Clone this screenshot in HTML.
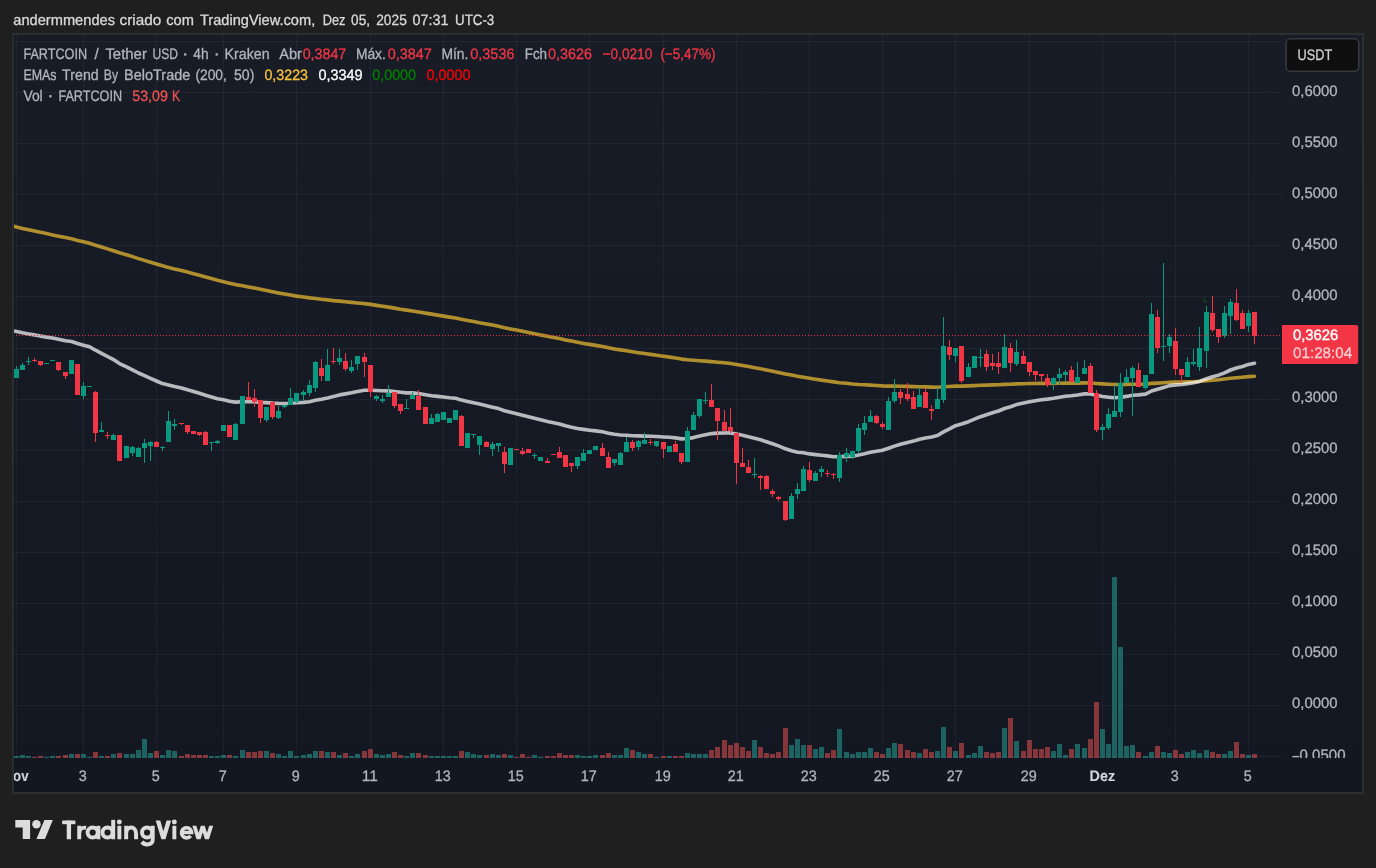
<!DOCTYPE html>
<html><head><meta charset="utf-8"><title>FARTCOIN / Tether USD</title>
<style>
html,body{margin:0;padding:0;background:#1f1f1f;}
body{width:1376px;height:868px;position:relative;overflow:hidden;font-family:"Liberation Sans",sans-serif;}
#frame{position:absolute;left:12px;top:33px;width:1348px;height:757px;border:2px solid #2d2e30;background:linear-gradient(#181c27,#131722);}
</style></head><body>
<div id="frame"></div>
<div style="position:absolute;left:13px;top:35px;width:1px;height:757px;background:#27292d"></div>
<svg width="1376" height="868" viewBox="0 0 1376 868" font-family="Liberation Sans, sans-serif" text-rendering="geometricPrecision" style="position:absolute;left:0;top:0;will-change:transform"><defs><clipPath id="fr"><rect x="14" y="35" width="1348" height="757"/></clipPath></defs>
<defs><clipPath id="pane"><rect x="14" y="35" width="1267" height="723"/></clipPath></defs>
<g><rect x="16" y="35" width="1" height="723" fill="#f0f3fa" fill-opacity="0.052"/><rect x="83" y="35" width="1" height="723" fill="#f0f3fa" fill-opacity="0.052"/><rect x="156" y="35" width="1" height="723" fill="#f0f3fa" fill-opacity="0.052"/><rect x="223" y="35" width="1" height="723" fill="#f0f3fa" fill-opacity="0.052"/><rect x="296" y="35" width="1" height="723" fill="#f0f3fa" fill-opacity="0.052"/><rect x="370" y="35" width="1" height="723" fill="#f0f3fa" fill-opacity="0.052"/><rect x="443" y="35" width="1" height="723" fill="#f0f3fa" fill-opacity="0.052"/><rect x="516" y="35" width="1" height="723" fill="#f0f3fa" fill-opacity="0.052"/><rect x="589" y="35" width="1" height="723" fill="#f0f3fa" fill-opacity="0.052"/><rect x="663" y="35" width="1" height="723" fill="#f0f3fa" fill-opacity="0.052"/><rect x="736" y="35" width="1" height="723" fill="#f0f3fa" fill-opacity="0.052"/><rect x="809" y="35" width="1" height="723" fill="#f0f3fa" fill-opacity="0.052"/><rect x="882" y="35" width="1" height="723" fill="#f0f3fa" fill-opacity="0.052"/><rect x="955" y="35" width="1" height="723" fill="#f0f3fa" fill-opacity="0.052"/><rect x="1029" y="35" width="1" height="723" fill="#f0f3fa" fill-opacity="0.052"/><rect x="1102" y="35" width="1" height="723" fill="#f0f3fa" fill-opacity="0.052"/><rect x="1175" y="35" width="1" height="723" fill="#f0f3fa" fill-opacity="0.052"/><rect x="1248" y="35" width="1" height="723" fill="#f0f3fa" fill-opacity="0.052"/><rect x="14" y="41" width="1267" height="1" fill="#f0f3fa" fill-opacity="0.052"/><rect x="14" y="92" width="1267" height="1" fill="#f0f3fa" fill-opacity="0.052"/><rect x="14" y="143" width="1267" height="1" fill="#f0f3fa" fill-opacity="0.052"/><rect x="14" y="194" width="1267" height="1" fill="#f0f3fa" fill-opacity="0.052"/><rect x="14" y="245" width="1267" height="1" fill="#f0f3fa" fill-opacity="0.052"/><rect x="14" y="296" width="1267" height="1" fill="#f0f3fa" fill-opacity="0.052"/><rect x="14" y="348" width="1267" height="1" fill="#f0f3fa" fill-opacity="0.052"/><rect x="14" y="399" width="1267" height="1" fill="#f0f3fa" fill-opacity="0.052"/><rect x="14" y="450" width="1267" height="1" fill="#f0f3fa" fill-opacity="0.052"/><rect x="14" y="501" width="1267" height="1" fill="#f0f3fa" fill-opacity="0.052"/><rect x="14" y="552" width="1267" height="1" fill="#f0f3fa" fill-opacity="0.052"/><rect x="14" y="603" width="1267" height="1" fill="#f0f3fa" fill-opacity="0.052"/><rect x="14" y="654" width="1267" height="1" fill="#f0f3fa" fill-opacity="0.052"/><rect x="14" y="705" width="1267" height="1" fill="#f0f3fa" fill-opacity="0.052"/><rect x="14" y="756" width="1267" height="1" fill="#f0f3fa" fill-opacity="0.052"/></g>
<text x="1292.0" y="96.3" textLength="45.5" lengthAdjust="spacingAndGlyphs" font-size="15.2" font-weight="normal" fill="#b2b5be" stroke="#b2b5be" stroke-width="0.3" >0,6000</text>
<text x="1292.0" y="147.3" textLength="45.5" lengthAdjust="spacingAndGlyphs" font-size="15.2" font-weight="normal" fill="#b2b5be" stroke="#b2b5be" stroke-width="0.3" >0,5500</text>
<text x="1292.0" y="198.3" textLength="45.5" lengthAdjust="spacingAndGlyphs" font-size="15.2" font-weight="normal" fill="#b2b5be" stroke="#b2b5be" stroke-width="0.3" >0,5000</text>
<text x="1292.0" y="249.3" textLength="45.5" lengthAdjust="spacingAndGlyphs" font-size="15.2" font-weight="normal" fill="#b2b5be" stroke="#b2b5be" stroke-width="0.3" >0,4500</text>
<text x="1292.0" y="300.3" textLength="45.5" lengthAdjust="spacingAndGlyphs" font-size="15.2" font-weight="normal" fill="#b2b5be" stroke="#b2b5be" stroke-width="0.3" >0,4000</text>
<text x="1292.0" y="351.3" textLength="45.5" lengthAdjust="spacingAndGlyphs" font-size="15.2" font-weight="normal" fill="#b2b5be" stroke="#b2b5be" stroke-width="0.3" >0,3500</text>
<text x="1292.0" y="402.4" textLength="45.5" lengthAdjust="spacingAndGlyphs" font-size="15.2" font-weight="normal" fill="#b2b5be" stroke="#b2b5be" stroke-width="0.3" >0,3000</text>
<text x="1292.0" y="453.4" textLength="45.5" lengthAdjust="spacingAndGlyphs" font-size="15.2" font-weight="normal" fill="#b2b5be" stroke="#b2b5be" stroke-width="0.3" >0,2500</text>
<text x="1292.0" y="504.4" textLength="45.5" lengthAdjust="spacingAndGlyphs" font-size="15.2" font-weight="normal" fill="#b2b5be" stroke="#b2b5be" stroke-width="0.3" >0,2000</text>
<text x="1292.0" y="555.4" textLength="45.5" lengthAdjust="spacingAndGlyphs" font-size="15.2" font-weight="normal" fill="#b2b5be" stroke="#b2b5be" stroke-width="0.3" >0,1500</text>
<text x="1292.0" y="606.4" textLength="45.5" lengthAdjust="spacingAndGlyphs" font-size="15.2" font-weight="normal" fill="#b2b5be" stroke="#b2b5be" stroke-width="0.3" >0,1000</text>
<text x="1292.0" y="657.4" textLength="45.5" lengthAdjust="spacingAndGlyphs" font-size="15.2" font-weight="normal" fill="#b2b5be" stroke="#b2b5be" stroke-width="0.3" >0,0500</text>
<text x="1292.0" y="708.4" textLength="45.5" lengthAdjust="spacingAndGlyphs" font-size="15.2" font-weight="normal" fill="#b2b5be" stroke="#b2b5be" stroke-width="0.3" >0,0000</text>
<text x="78.8" y="780.7" textLength="8.0" lengthAdjust="spacingAndGlyphs" font-size="15.2" font-weight="normal" fill="#b2b5be" stroke="#b2b5be" stroke-width="0.3" >3</text>
<text x="151.8" y="780.7" textLength="8.0" lengthAdjust="spacingAndGlyphs" font-size="15.2" font-weight="normal" fill="#b2b5be" stroke="#b2b5be" stroke-width="0.3" >5</text>
<text x="218.8" y="780.7" textLength="8.0" lengthAdjust="spacingAndGlyphs" font-size="15.2" font-weight="normal" fill="#b2b5be" stroke="#b2b5be" stroke-width="0.3" >7</text>
<text x="291.8" y="780.7" textLength="8.0" lengthAdjust="spacingAndGlyphs" font-size="15.2" font-weight="normal" fill="#b2b5be" stroke="#b2b5be" stroke-width="0.3" >9</text>
<text x="361.8" y="780.7" textLength="16.0" lengthAdjust="spacingAndGlyphs" font-size="15.2" font-weight="normal" fill="#b2b5be" stroke="#b2b5be" stroke-width="0.3" >11</text>
<text x="434.8" y="780.7" textLength="16.0" lengthAdjust="spacingAndGlyphs" font-size="15.2" font-weight="normal" fill="#b2b5be" stroke="#b2b5be" stroke-width="0.3" >13</text>
<text x="507.8" y="780.7" textLength="16.0" lengthAdjust="spacingAndGlyphs" font-size="15.2" font-weight="normal" fill="#b2b5be" stroke="#b2b5be" stroke-width="0.3" >15</text>
<text x="580.8" y="780.7" textLength="16.0" lengthAdjust="spacingAndGlyphs" font-size="15.2" font-weight="normal" fill="#b2b5be" stroke="#b2b5be" stroke-width="0.3" >17</text>
<text x="654.8" y="780.7" textLength="16.0" lengthAdjust="spacingAndGlyphs" font-size="15.2" font-weight="normal" fill="#b2b5be" stroke="#b2b5be" stroke-width="0.3" >19</text>
<text x="727.8" y="780.7" textLength="16.0" lengthAdjust="spacingAndGlyphs" font-size="15.2" font-weight="normal" fill="#b2b5be" stroke="#b2b5be" stroke-width="0.3" >21</text>
<text x="800.8" y="780.7" textLength="16.0" lengthAdjust="spacingAndGlyphs" font-size="15.2" font-weight="normal" fill="#b2b5be" stroke="#b2b5be" stroke-width="0.3" >23</text>
<text x="873.8" y="780.7" textLength="16.0" lengthAdjust="spacingAndGlyphs" font-size="15.2" font-weight="normal" fill="#b2b5be" stroke="#b2b5be" stroke-width="0.3" >25</text>
<text x="946.8" y="780.7" textLength="16.0" lengthAdjust="spacingAndGlyphs" font-size="15.2" font-weight="normal" fill="#b2b5be" stroke="#b2b5be" stroke-width="0.3" >27</text>
<text x="1020.8" y="780.7" textLength="16.0" lengthAdjust="spacingAndGlyphs" font-size="15.2" font-weight="normal" fill="#b2b5be" stroke="#b2b5be" stroke-width="0.3" >29</text>
<text x="1170.8" y="780.7" textLength="8.0" lengthAdjust="spacingAndGlyphs" font-size="15.2" font-weight="normal" fill="#b2b5be" stroke="#b2b5be" stroke-width="0.3" >3</text>
<text x="1243.8" y="780.7" textLength="8.0" lengthAdjust="spacingAndGlyphs" font-size="15.2" font-weight="normal" fill="#b2b5be" stroke="#b2b5be" stroke-width="0.3" >5</text>
<g clip-path="url(#pane)"><g opacity="0.53" shape-rendering="crispEdges"><rect x="14" y="756" width="5" height="2" fill="#26a69a"/><rect x="20" y="755" width="5" height="3" fill="#26a69a"/><rect x="26" y="756" width="5" height="2" fill="#26a69a"/><rect x="32" y="757" width="5" height="1" fill="#ef5350"/><rect x="38" y="756" width="5" height="2" fill="#ef5350"/><rect x="44" y="757" width="5" height="1" fill="#26a69a"/><rect x="50" y="756" width="5" height="2" fill="#26a69a"/><rect x="56" y="756" width="5" height="2" fill="#ef5350"/><rect x="63" y="755" width="5" height="3" fill="#ef5350"/><rect x="69" y="754" width="5" height="4" fill="#26a69a"/><rect x="75" y="754" width="5" height="4" fill="#ef5350"/><rect x="81" y="754" width="5" height="4" fill="#26a69a"/><rect x="87" y="757" width="5" height="1" fill="#26a69a"/><rect x="93" y="752" width="5" height="6" fill="#ef5350"/><rect x="99" y="756" width="5" height="2" fill="#26a69a"/><rect x="105" y="756" width="5" height="2" fill="#ef5350"/><rect x="111" y="754" width="5" height="4" fill="#26a69a"/><rect x="117" y="753" width="5" height="5" fill="#ef5350"/><rect x="124" y="754" width="5" height="4" fill="#26a69a"/><rect x="130" y="754" width="5" height="4" fill="#26a69a"/><rect x="136" y="750" width="5" height="8" fill="#26a69a"/><rect x="142" y="739" width="5" height="19" fill="#26a69a"/><rect x="148" y="753" width="5" height="5" fill="#26a69a"/><rect x="154" y="751" width="5" height="7" fill="#ef5350"/><rect x="160" y="755" width="5" height="3" fill="#26a69a"/><rect x="166" y="750" width="5" height="8" fill="#26a69a"/><rect x="172" y="751" width="5" height="7" fill="#26a69a"/><rect x="179" y="756" width="5" height="2" fill="#ef5350"/><rect x="185" y="754" width="5" height="4" fill="#ef5350"/><rect x="191" y="755" width="5" height="3" fill="#ef5350"/><rect x="197" y="755" width="5" height="3" fill="#ef5350"/><rect x="203" y="755" width="5" height="3" fill="#ef5350"/><rect x="209" y="756" width="5" height="2" fill="#26a69a"/><rect x="215" y="756" width="5" height="2" fill="#26a69a"/><rect x="221" y="755" width="5" height="3" fill="#26a69a"/><rect x="227" y="755" width="5" height="3" fill="#ef5350"/><rect x="233" y="756" width="5" height="2" fill="#26a69a"/><rect x="240" y="750" width="5" height="8" fill="#26a69a"/><rect x="246" y="752" width="5" height="6" fill="#ef5350"/><rect x="252" y="752" width="5" height="6" fill="#ef5350"/><rect x="258" y="751" width="5" height="7" fill="#ef5350"/><rect x="264" y="751" width="5" height="7" fill="#26a69a"/><rect x="270" y="753" width="5" height="5" fill="#ef5350"/><rect x="276" y="754" width="5" height="4" fill="#26a69a"/><rect x="282" y="756" width="5" height="2" fill="#26a69a"/><rect x="288" y="751" width="5" height="7" fill="#26a69a"/><rect x="294" y="756" width="5" height="2" fill="#26a69a"/><rect x="301" y="755" width="5" height="3" fill="#26a69a"/><rect x="307" y="754" width="5" height="4" fill="#26a69a"/><rect x="313" y="751" width="5" height="7" fill="#26a69a"/><rect x="319" y="751" width="5" height="7" fill="#ef5350"/><rect x="325" y="752" width="5" height="6" fill="#26a69a"/><rect x="331" y="752" width="5" height="6" fill="#ef5350"/><rect x="337" y="755" width="5" height="3" fill="#26a69a"/><rect x="343" y="753" width="5" height="5" fill="#ef5350"/><rect x="349" y="756" width="5" height="2" fill="#26a69a"/><rect x="355" y="754" width="5" height="4" fill="#26a69a"/><rect x="362" y="751" width="5" height="7" fill="#ef5350"/><rect x="368" y="749" width="5" height="9" fill="#ef5350"/><rect x="374" y="754" width="5" height="4" fill="#26a69a"/><rect x="380" y="755" width="5" height="3" fill="#26a69a"/><rect x="386" y="754" width="5" height="4" fill="#26a69a"/><rect x="392" y="752" width="5" height="6" fill="#ef5350"/><rect x="398" y="755" width="5" height="3" fill="#ef5350"/><rect x="404" y="756" width="5" height="2" fill="#26a69a"/><rect x="410" y="753" width="5" height="5" fill="#26a69a"/><rect x="416" y="753" width="5" height="5" fill="#ef5350"/><rect x="423" y="755" width="5" height="3" fill="#ef5350"/><rect x="429" y="756" width="5" height="2" fill="#26a69a"/><rect x="435" y="756" width="5" height="2" fill="#26a69a"/><rect x="441" y="756" width="5" height="2" fill="#26a69a"/><rect x="447" y="756" width="5" height="2" fill="#26a69a"/><rect x="453" y="756" width="5" height="2" fill="#26a69a"/><rect x="459" y="751" width="5" height="7" fill="#ef5350"/><rect x="465" y="752" width="5" height="6" fill="#26a69a"/><rect x="471" y="754" width="5" height="4" fill="#26a69a"/><rect x="477" y="755" width="5" height="3" fill="#26a69a"/><rect x="484" y="755" width="5" height="3" fill="#ef5350"/><rect x="490" y="754" width="5" height="4" fill="#26a69a"/><rect x="496" y="755" width="5" height="3" fill="#26a69a"/><rect x="502" y="754" width="5" height="4" fill="#ef5350"/><rect x="508" y="755" width="5" height="3" fill="#26a69a"/><rect x="514" y="757" width="5" height="1" fill="#ef5350"/><rect x="520" y="754" width="5" height="4" fill="#ef5350"/><rect x="526" y="757" width="5" height="1" fill="#ef5350"/><rect x="532" y="755" width="5" height="3" fill="#26a69a"/><rect x="538" y="757" width="5" height="1" fill="#26a69a"/><rect x="545" y="756" width="5" height="2" fill="#ef5350"/><rect x="551" y="756" width="5" height="2" fill="#ef5350"/><rect x="557" y="753" width="5" height="5" fill="#ef5350"/><rect x="563" y="755" width="5" height="3" fill="#ef5350"/><rect x="569" y="755" width="5" height="3" fill="#ef5350"/><rect x="575" y="755" width="5" height="3" fill="#26a69a"/><rect x="581" y="756" width="5" height="2" fill="#26a69a"/><rect x="587" y="756" width="5" height="2" fill="#26a69a"/><rect x="593" y="755" width="5" height="3" fill="#26a69a"/><rect x="600" y="755" width="5" height="3" fill="#ef5350"/><rect x="606" y="753" width="5" height="5" fill="#ef5350"/><rect x="612" y="755" width="5" height="3" fill="#26a69a"/><rect x="618" y="755" width="5" height="3" fill="#26a69a"/><rect x="624" y="748" width="5" height="10" fill="#26a69a"/><rect x="630" y="750" width="5" height="8" fill="#ef5350"/><rect x="636" y="752" width="5" height="6" fill="#26a69a"/><rect x="642" y="754" width="5" height="4" fill="#26a69a"/><rect x="648" y="754" width="5" height="4" fill="#ef5350"/><rect x="654" y="757" width="5" height="1" fill="#26a69a"/><rect x="661" y="756" width="5" height="2" fill="#ef5350"/><rect x="667" y="756" width="5" height="2" fill="#26a69a"/><rect x="673" y="756" width="5" height="2" fill="#ef5350"/><rect x="679" y="756" width="5" height="2" fill="#ef5350"/><rect x="685" y="753" width="5" height="5" fill="#26a69a"/><rect x="691" y="754" width="5" height="4" fill="#26a69a"/><rect x="697" y="754" width="5" height="4" fill="#26a69a"/><rect x="703" y="754" width="5" height="4" fill="#26a69a"/><rect x="709" y="750" width="5" height="8" fill="#ef5350"/><rect x="715" y="747" width="5" height="11" fill="#ef5350"/><rect x="722" y="740" width="5" height="18" fill="#ef5350"/><rect x="728" y="745" width="5" height="13" fill="#ef5350"/><rect x="734" y="743" width="5" height="15" fill="#ef5350"/><rect x="740" y="747" width="5" height="11" fill="#ef5350"/><rect x="746" y="751" width="5" height="7" fill="#ef5350"/><rect x="752" y="740" width="5" height="18" fill="#26a69a"/><rect x="758" y="747" width="5" height="11" fill="#ef5350"/><rect x="764" y="753" width="5" height="5" fill="#ef5350"/><rect x="770" y="754" width="5" height="4" fill="#ef5350"/><rect x="776" y="752" width="5" height="6" fill="#ef5350"/><rect x="783" y="728" width="5" height="30" fill="#ef5350"/><rect x="789" y="745" width="5" height="13" fill="#26a69a"/><rect x="795" y="739" width="5" height="19" fill="#26a69a"/><rect x="801" y="745" width="5" height="13" fill="#26a69a"/><rect x="807" y="745" width="5" height="13" fill="#ef5350"/><rect x="813" y="749" width="5" height="9" fill="#26a69a"/><rect x="819" y="747" width="5" height="11" fill="#26a69a"/><rect x="825" y="753" width="5" height="5" fill="#ef5350"/><rect x="831" y="750" width="5" height="8" fill="#ef5350"/><rect x="837" y="729" width="5" height="29" fill="#26a69a"/><rect x="844" y="752" width="5" height="6" fill="#26a69a"/><rect x="850" y="754" width="5" height="4" fill="#26a69a"/><rect x="856" y="752" width="5" height="6" fill="#26a69a"/><rect x="862" y="752" width="5" height="6" fill="#26a69a"/><rect x="868" y="748" width="5" height="10" fill="#26a69a"/><rect x="874" y="752" width="5" height="6" fill="#ef5350"/><rect x="880" y="754" width="5" height="4" fill="#ef5350"/><rect x="886" y="748" width="5" height="10" fill="#26a69a"/><rect x="892" y="743" width="5" height="15" fill="#26a69a"/><rect x="898" y="744" width="5" height="14" fill="#ef5350"/><rect x="905" y="750" width="5" height="8" fill="#ef5350"/><rect x="911" y="752" width="5" height="6" fill="#ef5350"/><rect x="917" y="753" width="5" height="5" fill="#26a69a"/><rect x="923" y="749" width="5" height="9" fill="#ef5350"/><rect x="929" y="752" width="5" height="6" fill="#ef5350"/><rect x="935" y="751" width="5" height="7" fill="#26a69a"/><rect x="941" y="727" width="5" height="31" fill="#26a69a"/><rect x="947" y="747" width="5" height="11" fill="#ef5350"/><rect x="953" y="751" width="5" height="7" fill="#26a69a"/><rect x="959" y="743" width="5" height="15" fill="#ef5350"/><rect x="966" y="755" width="5" height="3" fill="#26a69a"/><rect x="972" y="753" width="5" height="5" fill="#26a69a"/><rect x="978" y="746" width="5" height="12" fill="#26a69a"/><rect x="984" y="752" width="5" height="6" fill="#ef5350"/><rect x="990" y="753" width="5" height="5" fill="#ef5350"/><rect x="996" y="752" width="5" height="6" fill="#ef5350"/><rect x="1002" y="728" width="5" height="30" fill="#26a69a"/><rect x="1008" y="718" width="5" height="40" fill="#ef5350"/><rect x="1014" y="741" width="5" height="17" fill="#26a69a"/><rect x="1021" y="751" width="5" height="7" fill="#ef5350"/><rect x="1027" y="740" width="5" height="18" fill="#ef5350"/><rect x="1033" y="749" width="5" height="9" fill="#ef5350"/><rect x="1039" y="749" width="5" height="9" fill="#ef5350"/><rect x="1045" y="747" width="5" height="11" fill="#ef5350"/><rect x="1051" y="751" width="5" height="7" fill="#26a69a"/><rect x="1057" y="744" width="5" height="14" fill="#26a69a"/><rect x="1063" y="755" width="5" height="3" fill="#26a69a"/><rect x="1069" y="749" width="5" height="9" fill="#ef5350"/><rect x="1075" y="744" width="5" height="14" fill="#26a69a"/><rect x="1082" y="748" width="5" height="10" fill="#26a69a"/><rect x="1088" y="739" width="5" height="19" fill="#ef5350"/><rect x="1094" y="702" width="5" height="56" fill="#ef5350"/><rect x="1100" y="729" width="5" height="29" fill="#26a69a"/><rect x="1106" y="744" width="5" height="14" fill="#26a69a"/><rect x="1112" y="577" width="5" height="181" fill="#26a69a"/><rect x="1118" y="647" width="5" height="111" fill="#26a69a"/><rect x="1124" y="746" width="5" height="12" fill="#26a69a"/><rect x="1130" y="745" width="5" height="13" fill="#26a69a"/><rect x="1136" y="752" width="5" height="6" fill="#ef5350"/><rect x="1143" y="756" width="5" height="2" fill="#26a69a"/><rect x="1149" y="752" width="5" height="6" fill="#26a69a"/><rect x="1155" y="746" width="5" height="12" fill="#ef5350"/><rect x="1161" y="752" width="5" height="6" fill="#26a69a"/><rect x="1167" y="753" width="5" height="5" fill="#26a69a"/><rect x="1173" y="750" width="5" height="8" fill="#ef5350"/><rect x="1179" y="754" width="5" height="4" fill="#ef5350"/><rect x="1185" y="752" width="5" height="6" fill="#26a69a"/><rect x="1191" y="750" width="5" height="8" fill="#26a69a"/><rect x="1197" y="753" width="5" height="5" fill="#26a69a"/><rect x="1204" y="750" width="5" height="8" fill="#26a69a"/><rect x="1210" y="752" width="5" height="6" fill="#ef5350"/><rect x="1216" y="754" width="5" height="4" fill="#ef5350"/><rect x="1222" y="754" width="5" height="4" fill="#26a69a"/><rect x="1228" y="751" width="5" height="7" fill="#26a69a"/><rect x="1234" y="742" width="5" height="16" fill="#ef5350"/><rect x="1240" y="754" width="5" height="4" fill="#ef5350"/><rect x="1246" y="755" width="5" height="3" fill="#26a69a"/><rect x="1252" y="754" width="5" height="4" fill="#ef5350"/></g><path d="M10.4,225.6 L16.5,227.0 L22.5,228.4 L28.5,229.7 L34.5,231.0 L40.5,232.3 L46.5,233.6 L52.5,234.9 L58.5,236.2 L65.5,237.6 L71.5,238.8 L77.5,240.4 L83.5,241.8 L89.5,243.3 L95.5,245.2 L101.5,247.0 L107.5,248.9 L113.5,250.7 L119.5,252.8 L126.5,254.7 L132.5,256.6 L138.5,258.6 L144.5,260.4 L150.5,262.2 L156.5,264.0 L162.5,265.8 L168.5,267.4 L174.5,269.0 L181.5,270.5 L187.5,272.1 L193.5,273.7 L199.5,275.3 L205.5,277.0 L211.5,278.6 L217.5,280.3 L223.5,281.7 L229.5,283.2 L235.5,284.6 L242.5,285.7 L248.5,286.9 L254.5,288.0 L260.5,289.3 L266.5,290.5 L272.5,291.7 L278.5,292.9 L284.5,294.0 L290.5,295.1 L296.5,296.1 L303.5,297.0 L309.5,297.9 L315.5,298.5 L321.5,299.3 L327.5,299.9 L333.5,300.6 L339.5,301.1 L345.5,301.8 L351.5,302.4 L357.5,303.0 L364.5,303.6 L370.5,304.4 L376.5,305.4 L382.5,306.3 L388.5,307.1 L394.5,308.1 L400.5,309.2 L406.5,310.1 L412.5,311.0 L418.5,312.0 L425.5,313.1 L431.5,314.1 L437.5,315.1 L443.5,316.1 L449.5,317.1 L455.5,318.0 L461.5,319.3 L467.5,320.4 L473.5,321.5 L479.5,322.7 L486.5,323.9 L492.5,325.1 L498.5,326.3 L504.5,327.7 L510.5,328.9 L516.5,330.1 L522.5,331.3 L528.5,332.5 L534.5,333.7 L540.5,334.9 L547.5,336.2 L553.5,337.4 L559.5,338.6 L565.5,339.9 L571.5,341.1 L577.5,342.3 L583.5,343.4 L589.5,344.4 L595.5,345.4 L602.5,346.5 L608.5,347.8 L614.5,348.9 L620.5,349.9 L626.5,350.8 L632.5,351.8 L638.5,352.7 L644.5,353.5 L650.5,354.4 L656.5,355.3 L663.5,356.2 L669.5,357.1 L675.5,358.0 L681.5,359.1 L687.5,359.8 L693.5,360.3 L699.5,360.7 L705.5,361.1 L711.5,361.6 L717.5,362.2 L724.5,362.8 L730.5,363.5 L736.5,364.5 L742.5,365.5 L748.5,366.6 L754.5,367.7 L760.5,368.8 L766.5,370.0 L772.5,371.2 L778.5,372.5 L785.5,373.9 L791.5,375.1 L797.5,376.3 L803.5,377.2 L809.5,378.2 L815.5,379.2 L821.5,380.1 L827.5,381.0 L833.5,381.9 L839.5,382.7 L846.5,383.3 L852.5,384.0 L858.5,384.5 L864.5,384.8 L870.5,385.1 L876.5,385.5 L882.5,385.9 L888.5,386.1 L894.5,386.1 L900.5,386.3 L907.5,386.4 L913.5,386.6 L919.5,386.7 L925.5,386.9 L931.5,387.1 L937.5,387.3 L943.5,386.8 L949.5,386.5 L955.5,386.1 L961.5,386.1 L968.5,385.9 L974.5,385.6 L980.5,385.3 L986.5,385.1 L992.5,384.9 L998.5,384.8 L1004.5,384.4 L1010.5,384.2 L1016.5,383.9 L1023.5,383.7 L1029.5,383.5 L1035.5,383.5 L1041.5,383.4 L1047.5,383.4 L1053.5,383.3 L1059.5,383.2 L1065.5,383.1 L1071.5,383.1 L1077.5,383.1 L1084.5,382.9 L1090.5,383.0 L1096.5,383.5 L1102.5,383.9 L1108.5,384.2 L1114.5,384.5 L1120.5,384.5 L1126.5,384.4 L1132.5,384.2 L1138.5,384.2 L1145.5,384.1 L1151.5,383.4 L1157.5,383.1 L1163.5,382.7 L1169.5,382.3 L1175.5,382.1 L1181.5,382.1 L1187.5,381.9 L1193.5,381.7 L1199.5,381.3 L1206.5,380.6 L1212.5,380.1 L1218.5,379.7 L1224.5,379.0 L1230.5,378.3 L1236.5,377.7 L1242.5,377.2 L1248.5,376.6 L1254.5,376.2" fill="none" stroke="#f1c032" stroke-opacity="0.7" stroke-width="3.6" stroke-linecap="round" stroke-linejoin="round"/><path d="M10.4,330.2 L16.5,331.5 L22.5,332.8 L28.5,333.9 L34.5,334.9 L40.5,336.1 L46.5,337.1 L52.5,338.0 L58.5,339.3 L65.5,340.7 L71.5,341.5 L77.5,343.5 L83.5,345.2 L89.5,346.8 L95.5,350.2 L101.5,353.3 L107.5,356.5 L113.5,359.6 L119.5,363.6 L126.5,366.8 L132.5,369.9 L138.5,373.0 L144.5,375.7 L150.5,378.3 L156.5,381.0 L162.5,383.6 L168.5,385.0 L174.5,386.6 L181.5,388.0 L187.5,389.7 L193.5,391.5 L199.5,393.2 L205.5,395.2 L211.5,397.0 L217.5,398.7 L223.5,399.8 L229.5,401.2 L235.5,402.1 L242.5,401.8 L248.5,401.8 L254.5,401.8 L260.5,402.4 L266.5,402.6 L272.5,403.1 L278.5,403.4 L284.5,403.5 L290.5,403.3 L296.5,402.8 L303.5,402.4 L309.5,401.7 L315.5,400.2 L321.5,399.2 L327.5,397.9 L333.5,396.4 L339.5,394.9 L345.5,393.9 L351.5,392.8 L357.5,391.4 L364.5,390.2 L370.5,390.3 L376.5,390.5 L382.5,390.8 L388.5,390.9 L394.5,391.5 L400.5,392.2 L406.5,392.9 L412.5,392.9 L418.5,393.6 L425.5,394.8 L431.5,395.7 L437.5,396.4 L443.5,397.0 L449.5,397.8 L455.5,398.3 L461.5,400.1 L467.5,401.4 L473.5,402.7 L479.5,404.0 L486.5,405.7 L492.5,407.2 L498.5,408.6 L504.5,410.7 L510.5,412.2 L516.5,413.7 L522.5,415.2 L528.5,416.7 L534.5,418.2 L540.5,419.7 L547.5,421.4 L553.5,422.7 L559.5,424.1 L565.5,425.8 L571.5,427.3 L577.5,428.5 L583.5,429.4 L589.5,430.2 L595.5,430.9 L602.5,431.8 L608.5,433.2 L614.5,434.2 L620.5,435.0 L626.5,435.2 L632.5,435.7 L638.5,435.9 L644.5,436.1 L650.5,436.3 L656.5,436.5 L663.5,437.0 L669.5,437.3 L675.5,437.9 L681.5,438.9 L687.5,438.5 L693.5,437.6 L699.5,436.1 L705.5,434.7 L711.5,433.6 L717.5,433.1 L724.5,433.0 L730.5,432.9 L736.5,434.1 L742.5,435.3 L748.5,436.8 L754.5,438.3 L760.5,439.8 L766.5,441.7 L772.5,443.8 L778.5,445.9 L785.5,448.8 L791.5,450.7 L797.5,452.2 L803.5,452.8 L809.5,453.9 L815.5,454.6 L821.5,455.2 L827.5,455.9 L833.5,456.7 L839.5,456.6 L846.5,456.4 L852.5,456.2 L858.5,455.1 L864.5,453.8 L870.5,452.3 L876.5,451.2 L882.5,450.2 L888.5,448.3 L894.5,446.1 L900.5,444.2 L907.5,442.4 L913.5,441.1 L919.5,439.3 L925.5,438.0 L931.5,437.0 L937.5,435.5 L943.5,431.9 L949.5,428.9 L955.5,425.7 L961.5,424.0 L968.5,421.7 L974.5,419.2 L980.5,416.7 L986.5,414.8 L992.5,412.8 L998.5,411.0 L1004.5,408.5 L1010.5,406.7 L1016.5,404.6 L1023.5,403.0 L1029.5,401.7 L1035.5,400.7 L1041.5,399.7 L1047.5,399.1 L1053.5,398.3 L1059.5,397.3 L1065.5,396.3 L1071.5,395.8 L1077.5,395.0 L1084.5,393.9 L1090.5,393.9 L1096.5,395.3 L1102.5,396.5 L1108.5,397.2 L1114.5,397.8 L1120.5,397.2 L1126.5,396.4 L1132.5,395.2 L1138.5,394.9 L1145.5,394.1 L1151.5,391.0 L1157.5,389.3 L1163.5,387.6 L1169.5,385.6 L1175.5,384.9 L1181.5,384.5 L1187.5,383.6 L1193.5,382.8 L1199.5,381.4 L1206.5,378.7 L1212.5,376.8 L1218.5,375.2 L1224.5,372.8 L1230.5,370.0 L1236.5,368.0 L1242.5,366.5 L1248.5,364.4 L1254.5,363.2" fill="none" stroke="#ffffff" stroke-opacity="0.7" stroke-width="3.6" stroke-linecap="round" stroke-linejoin="round"/><g shape-rendering="crispEdges"><rect x="16" y="366" width="1" height="12" fill="#089981"/><rect x="14" y="369.3" width="5" height="8.7" fill="#089981"/><rect x="22" y="363" width="1" height="7" fill="#089981"/><rect x="20" y="365" width="5" height="5" fill="#089981"/><rect x="28" y="357" width="1" height="8" fill="#089981"/><rect x="26" y="361" width="5" height="1" fill="#089981"/><rect x="34" y="358" width="1" height="4" fill="#f23645"/><rect x="32" y="360" width="5" height="1" fill="#f23645"/><rect x="40" y="361" width="1" height="5" fill="#f23645"/><rect x="38" y="361" width="5" height="4" fill="#f23645"/><rect x="44" y="363" width="5" height="1" fill="#089981"/><rect x="50" y="360" width="5" height="1" fill="#089981"/><rect x="58" y="362" width="1" height="9" fill="#f23645"/><rect x="56" y="362" width="5" height="8" fill="#f23645"/><rect x="65" y="372" width="1" height="7" fill="#f23645"/><rect x="63" y="372" width="5" height="4" fill="#f23645"/><rect x="69" y="360" width="5" height="14" fill="#089981"/><rect x="75" y="364" width="5" height="31" fill="#f23645"/><rect x="83" y="382" width="1" height="17" fill="#089981"/><rect x="81" y="386" width="5" height="10" fill="#089981"/><rect x="87" y="386" width="5" height="1" fill="#089981"/><rect x="95" y="391" width="1" height="51" fill="#f23645"/><rect x="93" y="392" width="5" height="41" fill="#f23645"/><rect x="101" y="422" width="1" height="10" fill="#089981"/><rect x="99" y="430" width="5" height="2" fill="#089981"/><rect x="107" y="432" width="1" height="7" fill="#f23645"/><rect x="105" y="435" width="5" height="1" fill="#f23645"/><rect x="113" y="434" width="1" height="6" fill="#089981"/><rect x="111" y="435" width="5" height="5" fill="#089981"/><rect x="117" y="435" width="5" height="26" fill="#f23645"/><rect x="124" y="446" width="5" height="12" fill="#089981"/><rect x="132" y="446" width="1" height="10" fill="#089981"/><rect x="130" y="447" width="5" height="6" fill="#089981"/><rect x="138" y="447" width="1" height="10" fill="#089981"/><rect x="136" y="448" width="5" height="9" fill="#089981"/><rect x="144" y="439" width="1" height="24" fill="#089981"/><rect x="142" y="443" width="5" height="5" fill="#089981"/><rect x="150" y="441" width="1" height="20" fill="#089981"/><rect x="148" y="442" width="5" height="4" fill="#089981"/><rect x="156" y="441" width="1" height="6" fill="#f23645"/><rect x="154" y="442" width="5" height="5" fill="#f23645"/><rect x="162" y="446" width="1" height="5" fill="#089981"/><rect x="160" y="447" width="5" height="1" fill="#089981"/><rect x="168" y="411" width="1" height="31" fill="#089981"/><rect x="166" y="421" width="5" height="21" fill="#089981"/><rect x="174" y="419" width="1" height="11" fill="#089981"/><rect x="172" y="424" width="5" height="2" fill="#089981"/><rect x="181" y="423" width="1" height="2" fill="#f23645"/><rect x="179" y="423" width="5" height="1" fill="#f23645"/><rect x="187" y="425" width="1" height="9" fill="#f23645"/><rect x="185" y="425" width="5" height="7" fill="#f23645"/><rect x="191" y="431" width="5" height="3" fill="#f23645"/><rect x="199" y="432" width="1" height="4" fill="#f23645"/><rect x="197" y="432" width="5" height="3" fill="#f23645"/><rect x="205" y="431" width="1" height="14" fill="#f23645"/><rect x="203" y="432" width="5" height="13" fill="#f23645"/><rect x="211" y="442" width="1" height="9" fill="#089981"/><rect x="209" y="442" width="5" height="1" fill="#089981"/><rect x="217" y="440" width="1" height="4" fill="#089981"/><rect x="215" y="441" width="5" height="2" fill="#089981"/><rect x="221" y="425" width="5" height="6" fill="#089981"/><rect x="227" y="425" width="5" height="12" fill="#f23645"/><rect x="235" y="423" width="1" height="17" fill="#089981"/><rect x="233" y="424" width="5" height="16" fill="#089981"/><rect x="240" y="396" width="5" height="28" fill="#089981"/><rect x="248" y="382" width="1" height="18" fill="#f23645"/><rect x="246" y="397" width="5" height="3" fill="#f23645"/><rect x="254" y="389" width="1" height="18" fill="#f23645"/><rect x="252" y="398" width="5" height="4" fill="#f23645"/><rect x="260" y="400" width="1" height="23" fill="#f23645"/><rect x="258" y="400" width="5" height="18" fill="#f23645"/><rect x="266" y="407" width="1" height="15" fill="#089981"/><rect x="264" y="407" width="5" height="13" fill="#089981"/><rect x="272" y="402" width="1" height="17" fill="#f23645"/><rect x="270" y="402" width="5" height="15" fill="#f23645"/><rect x="278" y="406" width="1" height="13" fill="#089981"/><rect x="276" y="411" width="5" height="7" fill="#089981"/><rect x="284" y="405" width="1" height="3" fill="#089981"/><rect x="282" y="405" width="5" height="2" fill="#089981"/><rect x="290" y="388" width="1" height="17" fill="#089981"/><rect x="288" y="398" width="5" height="7" fill="#089981"/><rect x="296" y="393" width="1" height="10" fill="#089981"/><rect x="294" y="393" width="5" height="9" fill="#089981"/><rect x="303" y="390" width="1" height="11" fill="#089981"/><rect x="301" y="392" width="5" height="3" fill="#089981"/><rect x="309" y="380" width="1" height="16" fill="#089981"/><rect x="307" y="385" width="5" height="8" fill="#089981"/><rect x="315" y="361" width="1" height="31" fill="#089981"/><rect x="313" y="362" width="5" height="26" fill="#089981"/><rect x="321" y="359" width="1" height="22" fill="#f23645"/><rect x="319" y="368" width="5" height="8" fill="#f23645"/><rect x="327" y="349" width="1" height="32" fill="#089981"/><rect x="325" y="365" width="5" height="16" fill="#089981"/><rect x="333" y="348" width="1" height="16" fill="#f23645"/><rect x="331" y="361" width="5" height="1" fill="#f23645"/><rect x="339" y="349" width="1" height="16" fill="#089981"/><rect x="337" y="358" width="5" height="4" fill="#089981"/><rect x="345" y="353" width="1" height="18" fill="#f23645"/><rect x="343" y="361" width="5" height="8" fill="#f23645"/><rect x="351" y="360" width="1" height="13" fill="#089981"/><rect x="349" y="367" width="5" height="4" fill="#089981"/><rect x="357" y="356" width="1" height="14" fill="#089981"/><rect x="355" y="356" width="5" height="8" fill="#089981"/><rect x="364" y="353" width="1" height="24" fill="#f23645"/><rect x="362" y="357" width="5" height="5" fill="#f23645"/><rect x="370" y="365" width="1" height="32" fill="#f23645"/><rect x="368" y="365" width="5" height="27" fill="#f23645"/><rect x="376" y="395" width="1" height="6" fill="#089981"/><rect x="374" y="396" width="5" height="3" fill="#089981"/><rect x="382" y="395" width="1" height="8" fill="#089981"/><rect x="380" y="399" width="5" height="2" fill="#089981"/><rect x="388" y="385" width="1" height="12" fill="#089981"/><rect x="386" y="393" width="5" height="4" fill="#089981"/><rect x="394" y="392" width="1" height="16" fill="#f23645"/><rect x="392" y="392" width="5" height="14" fill="#f23645"/><rect x="400" y="404" width="1" height="10" fill="#f23645"/><rect x="398" y="404" width="5" height="7" fill="#f23645"/><rect x="406" y="399" width="1" height="10" fill="#089981"/><rect x="404" y="408" width="5" height="1" fill="#089981"/><rect x="412" y="392" width="1" height="7" fill="#089981"/><rect x="410" y="395" width="5" height="4" fill="#089981"/><rect x="418" y="390" width="1" height="20" fill="#f23645"/><rect x="416" y="396" width="5" height="14" fill="#f23645"/><rect x="423" y="407" width="5" height="17" fill="#f23645"/><rect x="431" y="414" width="1" height="10" fill="#089981"/><rect x="429" y="418" width="5" height="6" fill="#089981"/><rect x="437" y="413" width="1" height="9" fill="#089981"/><rect x="435" y="414" width="5" height="8" fill="#089981"/><rect x="441" y="412" width="5" height="8" fill="#089981"/><rect x="447" y="418" width="5" height="5" fill="#089981"/><rect x="453" y="410" width="5" height="10" fill="#089981"/><rect x="461" y="415" width="1" height="31" fill="#f23645"/><rect x="459" y="416" width="5" height="30" fill="#f23645"/><rect x="465" y="433" width="5" height="15" fill="#089981"/><rect x="473" y="434" width="1" height="4" fill="#089981"/><rect x="471" y="434" width="5" height="1" fill="#089981"/><rect x="479" y="436" width="1" height="19" fill="#089981"/><rect x="477" y="436" width="5" height="9" fill="#089981"/><rect x="486" y="441" width="1" height="6" fill="#f23645"/><rect x="484" y="442" width="5" height="5" fill="#f23645"/><rect x="492" y="442" width="1" height="14" fill="#089981"/><rect x="490" y="444" width="5" height="5" fill="#089981"/><rect x="498" y="443" width="1" height="9" fill="#089981"/><rect x="496" y="443" width="5" height="3" fill="#089981"/><rect x="504" y="447" width="1" height="26" fill="#f23645"/><rect x="502" y="452" width="5" height="12" fill="#f23645"/><rect x="508" y="448" width="5" height="17" fill="#089981"/><rect x="514" y="449" width="5" height="1" fill="#f23645"/><rect x="522" y="448" width="1" height="7" fill="#f23645"/><rect x="520" y="451" width="5" height="3" fill="#f23645"/><rect x="526" y="449" width="5" height="4" fill="#f23645"/><rect x="534" y="453" width="1" height="6" fill="#089981"/><rect x="532" y="455" width="5" height="1" fill="#089981"/><rect x="538" y="457" width="5" height="4" fill="#089981"/><rect x="547" y="458" width="1" height="5" fill="#f23645"/><rect x="545" y="461" width="5" height="2" fill="#f23645"/><rect x="551" y="454" width="5" height="1" fill="#f23645"/><rect x="559" y="447" width="1" height="11" fill="#f23645"/><rect x="557" y="452" width="5" height="6" fill="#f23645"/><rect x="563" y="455" width="5" height="12" fill="#f23645"/><rect x="571" y="463" width="1" height="9" fill="#f23645"/><rect x="569" y="463" width="5" height="3" fill="#f23645"/><rect x="577" y="457" width="1" height="12" fill="#089981"/><rect x="575" y="457" width="5" height="9" fill="#089981"/><rect x="583" y="449" width="1" height="12" fill="#089981"/><rect x="581" y="453" width="5" height="8" fill="#089981"/><rect x="587" y="450" width="5" height="4" fill="#089981"/><rect x="593" y="446" width="5" height="4" fill="#089981"/><rect x="602" y="443" width="1" height="13" fill="#f23645"/><rect x="600" y="448" width="5" height="8" fill="#f23645"/><rect x="608" y="452" width="1" height="16" fill="#f23645"/><rect x="606" y="457" width="5" height="11" fill="#f23645"/><rect x="614" y="459" width="1" height="7" fill="#089981"/><rect x="612" y="459" width="5" height="4" fill="#089981"/><rect x="620" y="452" width="1" height="13" fill="#089981"/><rect x="618" y="453" width="5" height="12" fill="#089981"/><rect x="626" y="437" width="1" height="15" fill="#089981"/><rect x="624" y="442" width="5" height="10" fill="#089981"/><rect x="632" y="440" width="1" height="11" fill="#f23645"/><rect x="630" y="442" width="5" height="6" fill="#f23645"/><rect x="638" y="440" width="1" height="10" fill="#089981"/><rect x="636" y="441" width="5" height="6" fill="#089981"/><rect x="644" y="433" width="1" height="11" fill="#089981"/><rect x="642" y="440" width="5" height="4" fill="#089981"/><rect x="650" y="439" width="1" height="6" fill="#f23645"/><rect x="648" y="442" width="5" height="1" fill="#f23645"/><rect x="656" y="441" width="1" height="6" fill="#089981"/><rect x="654" y="441" width="5" height="5" fill="#089981"/><rect x="663" y="442" width="1" height="16" fill="#f23645"/><rect x="661" y="442" width="5" height="7" fill="#f23645"/><rect x="667" y="446" width="5" height="6" fill="#089981"/><rect x="675" y="441" width="1" height="11" fill="#f23645"/><rect x="673" y="444" width="5" height="8" fill="#f23645"/><rect x="681" y="453" width="1" height="11" fill="#f23645"/><rect x="679" y="453" width="5" height="9" fill="#f23645"/><rect x="687" y="427" width="1" height="35" fill="#089981"/><rect x="685" y="431" width="5" height="31" fill="#089981"/><rect x="693" y="412" width="1" height="18" fill="#089981"/><rect x="691" y="415" width="5" height="15" fill="#089981"/><rect x="699" y="399" width="1" height="19" fill="#089981"/><rect x="697" y="399" width="5" height="17" fill="#089981"/><rect x="705" y="392" width="1" height="12" fill="#089981"/><rect x="703" y="400" width="5" height="1" fill="#089981"/><rect x="711" y="384" width="1" height="23" fill="#f23645"/><rect x="709" y="400" width="5" height="7" fill="#f23645"/><rect x="717" y="408" width="1" height="32" fill="#f23645"/><rect x="715" y="408" width="5" height="13" fill="#f23645"/><rect x="724" y="410" width="1" height="21" fill="#f23645"/><rect x="722" y="422" width="5" height="9" fill="#f23645"/><rect x="730" y="408" width="1" height="25" fill="#f23645"/><rect x="728" y="427" width="5" height="4" fill="#f23645"/><rect x="736" y="433" width="1" height="51" fill="#f23645"/><rect x="734" y="433" width="5" height="30" fill="#f23645"/><rect x="742" y="448" width="1" height="19" fill="#f23645"/><rect x="740" y="463" width="5" height="4" fill="#f23645"/><rect x="748" y="460" width="1" height="13" fill="#f23645"/><rect x="746" y="467" width="5" height="6" fill="#f23645"/><rect x="754" y="458" width="1" height="20" fill="#089981"/><rect x="752" y="474" width="5" height="1" fill="#089981"/><rect x="760" y="475" width="1" height="15" fill="#f23645"/><rect x="758" y="476" width="5" height="2" fill="#f23645"/><rect x="766" y="475" width="1" height="14" fill="#f23645"/><rect x="764" y="476" width="5" height="13" fill="#f23645"/><rect x="772" y="489" width="1" height="8" fill="#f23645"/><rect x="770" y="491" width="5" height="3" fill="#f23645"/><rect x="778" y="496" width="1" height="5" fill="#f23645"/><rect x="776" y="497" width="5" height="2" fill="#f23645"/><rect x="785" y="501" width="1" height="20" fill="#f23645"/><rect x="783" y="501" width="5" height="19" fill="#f23645"/><rect x="791" y="493" width="1" height="26" fill="#089981"/><rect x="789" y="496" width="5" height="23" fill="#089981"/><rect x="797" y="483" width="1" height="16" fill="#089981"/><rect x="795" y="489" width="5" height="5" fill="#089981"/><rect x="803" y="466" width="1" height="25" fill="#089981"/><rect x="801" y="469" width="5" height="22" fill="#089981"/><rect x="809" y="462" width="1" height="20" fill="#f23645"/><rect x="807" y="470" width="5" height="10" fill="#f23645"/><rect x="815" y="471" width="1" height="10" fill="#089981"/><rect x="813" y="473" width="5" height="8" fill="#089981"/><rect x="821" y="466" width="1" height="11" fill="#089981"/><rect x="819" y="469" width="5" height="3" fill="#089981"/><rect x="827" y="470" width="1" height="7" fill="#f23645"/><rect x="825" y="473" width="5" height="1" fill="#f23645"/><rect x="833" y="473" width="1" height="6" fill="#f23645"/><rect x="831" y="474" width="5" height="1" fill="#f23645"/><rect x="839" y="452" width="1" height="30" fill="#089981"/><rect x="837" y="455" width="5" height="23" fill="#089981"/><rect x="846" y="448" width="1" height="14" fill="#089981"/><rect x="844" y="453" width="5" height="4" fill="#089981"/><rect x="852" y="451" width="1" height="8" fill="#089981"/><rect x="850" y="451" width="5" height="6" fill="#089981"/><rect x="858" y="424" width="1" height="30" fill="#089981"/><rect x="856" y="428" width="5" height="23" fill="#089981"/><rect x="864" y="416" width="1" height="19" fill="#089981"/><rect x="862" y="423" width="5" height="7" fill="#089981"/><rect x="870" y="410" width="1" height="12" fill="#089981"/><rect x="868" y="416" width="5" height="6" fill="#089981"/><rect x="876" y="415" width="1" height="9" fill="#f23645"/><rect x="874" y="416" width="5" height="7" fill="#f23645"/><rect x="882" y="422" width="1" height="7" fill="#f23645"/><rect x="880" y="424" width="5" height="3" fill="#f23645"/><rect x="888" y="397" width="1" height="33" fill="#089981"/><rect x="886" y="401" width="5" height="29" fill="#089981"/><rect x="894" y="379" width="1" height="24" fill="#089981"/><rect x="892" y="392" width="5" height="9" fill="#089981"/><rect x="900" y="389" width="1" height="15" fill="#f23645"/><rect x="898" y="392" width="5" height="6" fill="#f23645"/><rect x="907" y="383" width="1" height="18" fill="#f23645"/><rect x="905" y="394" width="5" height="5" fill="#f23645"/><rect x="913" y="391" width="1" height="18" fill="#f23645"/><rect x="911" y="397" width="5" height="12" fill="#f23645"/><rect x="919" y="388" width="1" height="19" fill="#089981"/><rect x="917" y="395" width="5" height="12" fill="#089981"/><rect x="925" y="388" width="1" height="20" fill="#f23645"/><rect x="923" y="392" width="5" height="16" fill="#f23645"/><rect x="931" y="405" width="1" height="15" fill="#f23645"/><rect x="929" y="409" width="5" height="2" fill="#f23645"/><rect x="937" y="388" width="1" height="21" fill="#089981"/><rect x="935" y="399" width="5" height="10" fill="#089981"/><rect x="943" y="317" width="1" height="86" fill="#089981"/><rect x="941" y="346" width="5" height="54" fill="#089981"/><rect x="949" y="340" width="1" height="20" fill="#f23645"/><rect x="947" y="347" width="5" height="8" fill="#f23645"/><rect x="955" y="348" width="1" height="14" fill="#089981"/><rect x="953" y="348" width="5" height="8" fill="#089981"/><rect x="961" y="346" width="1" height="37" fill="#f23645"/><rect x="959" y="346" width="5" height="35" fill="#f23645"/><rect x="968" y="363" width="1" height="14" fill="#089981"/><rect x="966" y="367" width="5" height="10" fill="#089981"/><rect x="972" y="356" width="5" height="12" fill="#089981"/><rect x="980" y="349" width="1" height="18" fill="#089981"/><rect x="978" y="357" width="5" height="1" fill="#089981"/><rect x="986" y="350" width="1" height="21" fill="#f23645"/><rect x="984" y="354" width="5" height="13" fill="#f23645"/><rect x="992" y="354" width="1" height="16" fill="#f23645"/><rect x="990" y="363" width="5" height="3" fill="#f23645"/><rect x="998" y="352" width="1" height="22" fill="#f23645"/><rect x="996" y="363" width="5" height="4" fill="#f23645"/><rect x="1004" y="334" width="1" height="34" fill="#089981"/><rect x="1002" y="347" width="5" height="21" fill="#089981"/><rect x="1010" y="343" width="1" height="29" fill="#f23645"/><rect x="1008" y="348" width="5" height="15" fill="#f23645"/><rect x="1016" y="340" width="1" height="26" fill="#089981"/><rect x="1014" y="352" width="5" height="12" fill="#089981"/><rect x="1023" y="351" width="1" height="13" fill="#f23645"/><rect x="1021" y="356" width="5" height="8" fill="#f23645"/><rect x="1029" y="362" width="1" height="14" fill="#f23645"/><rect x="1027" y="362" width="5" height="10" fill="#f23645"/><rect x="1035" y="371" width="1" height="10" fill="#f23645"/><rect x="1033" y="371" width="5" height="4" fill="#f23645"/><rect x="1041" y="374" width="1" height="7" fill="#f23645"/><rect x="1039" y="374" width="5" height="2" fill="#f23645"/><rect x="1047" y="374" width="1" height="13" fill="#f23645"/><rect x="1045" y="378" width="5" height="7" fill="#f23645"/><rect x="1053" y="377" width="1" height="13" fill="#089981"/><rect x="1051" y="378" width="5" height="6" fill="#089981"/><rect x="1059" y="368" width="1" height="17" fill="#089981"/><rect x="1057" y="374" width="5" height="4" fill="#089981"/><rect x="1065" y="370" width="1" height="12" fill="#089981"/><rect x="1063" y="372" width="5" height="3" fill="#089981"/><rect x="1071" y="366" width="1" height="16" fill="#f23645"/><rect x="1069" y="370" width="5" height="12" fill="#f23645"/><rect x="1077" y="362" width="1" height="21" fill="#089981"/><rect x="1075" y="377" width="5" height="6" fill="#089981"/><rect x="1084" y="360" width="1" height="14" fill="#089981"/><rect x="1082" y="368" width="5" height="6" fill="#089981"/><rect x="1090" y="363" width="1" height="30" fill="#f23645"/><rect x="1088" y="366" width="5" height="27" fill="#f23645"/><rect x="1096" y="390" width="1" height="42" fill="#f23645"/><rect x="1094" y="393" width="5" height="37" fill="#f23645"/><rect x="1102" y="424" width="1" height="16" fill="#089981"/><rect x="1100" y="427" width="5" height="3" fill="#089981"/><rect x="1108" y="408" width="1" height="22" fill="#089981"/><rect x="1106" y="414" width="5" height="14" fill="#089981"/><rect x="1114" y="385" width="1" height="32" fill="#089981"/><rect x="1112" y="411" width="5" height="6" fill="#089981"/><rect x="1120" y="373" width="1" height="44" fill="#089981"/><rect x="1118" y="383" width="5" height="29" fill="#089981"/><rect x="1126" y="369" width="1" height="14" fill="#089981"/><rect x="1124" y="377" width="5" height="6" fill="#089981"/><rect x="1132" y="366" width="1" height="50" fill="#089981"/><rect x="1130" y="368" width="5" height="10" fill="#089981"/><rect x="1138" y="363" width="1" height="24" fill="#f23645"/><rect x="1136" y="370" width="5" height="17" fill="#f23645"/><rect x="1145" y="375" width="1" height="15" fill="#089981"/><rect x="1143" y="375" width="5" height="13" fill="#089981"/><rect x="1151" y="303" width="1" height="71" fill="#089981"/><rect x="1149" y="314" width="5" height="60" fill="#089981"/><rect x="1157" y="310" width="1" height="43" fill="#f23645"/><rect x="1155" y="317" width="5" height="31" fill="#f23645"/><rect x="1163" y="263" width="1" height="98" fill="#089981"/><rect x="1161" y="346" width="5" height="1" fill="#089981"/><rect x="1169" y="334" width="1" height="19" fill="#089981"/><rect x="1167" y="337" width="5" height="9" fill="#089981"/><rect x="1175" y="328" width="1" height="47" fill="#f23645"/><rect x="1173" y="341" width="5" height="28" fill="#f23645"/><rect x="1181" y="369" width="1" height="14" fill="#f23645"/><rect x="1179" y="369" width="5" height="6" fill="#f23645"/><rect x="1187" y="357" width="1" height="20" fill="#089981"/><rect x="1185" y="362" width="5" height="15" fill="#089981"/><rect x="1193" y="349" width="1" height="17" fill="#089981"/><rect x="1191" y="362" width="5" height="2" fill="#089981"/><rect x="1199" y="327" width="1" height="44" fill="#089981"/><rect x="1197" y="348" width="5" height="19" fill="#089981"/><rect x="1206" y="306" width="1" height="62" fill="#089981"/><rect x="1204" y="312" width="5" height="39" fill="#089981"/><rect x="1212" y="296" width="1" height="36" fill="#f23645"/><rect x="1210" y="313" width="5" height="17" fill="#f23645"/><rect x="1218" y="329" width="1" height="14" fill="#f23645"/><rect x="1216" y="329" width="5" height="8" fill="#f23645"/><rect x="1224" y="306" width="1" height="32" fill="#089981"/><rect x="1222" y="313" width="5" height="23" fill="#089981"/><rect x="1230" y="299" width="1" height="35" fill="#089981"/><rect x="1228" y="302" width="5" height="14" fill="#089981"/><rect x="1236" y="289" width="1" height="32" fill="#f23645"/><rect x="1234" y="303" width="5" height="17" fill="#f23645"/><rect x="1242" y="310" width="1" height="19" fill="#f23645"/><rect x="1240" y="313" width="5" height="16" fill="#f23645"/><rect x="1248" y="310" width="1" height="22" fill="#089981"/><rect x="1246" y="313" width="5" height="13" fill="#089981"/><rect x="1254" y="312" width="1" height="32" fill="#f23645"/><rect x="1252" y="312" width="5" height="23.5" fill="#f23645"/></g></g>
<g fill="#f23645" opacity="0.95"><rect x="16" y="335" width="1" height="1"/><rect x="19" y="335" width="1" height="1"/><rect x="22" y="335" width="1" height="1"/><rect x="25" y="335" width="1" height="1"/><rect x="28" y="335" width="1" height="1"/><rect x="31" y="335" width="1" height="1"/><rect x="34" y="335" width="1" height="1"/><rect x="37" y="335" width="1" height="1"/><rect x="40" y="335" width="1" height="1"/><rect x="43" y="335" width="1" height="1"/><rect x="46" y="335" width="1" height="1"/><rect x="49" y="335" width="1" height="1"/><rect x="52" y="335" width="1" height="1"/><rect x="55" y="335" width="1" height="1"/><rect x="58" y="335" width="1" height="1"/><rect x="61" y="335" width="1" height="1"/><rect x="64" y="335" width="1" height="1"/><rect x="67" y="335" width="1" height="1"/><rect x="70" y="335" width="1" height="1"/><rect x="73" y="335" width="1" height="1"/><rect x="76" y="335" width="1" height="1"/><rect x="79" y="335" width="1" height="1"/><rect x="82" y="335" width="1" height="1"/><rect x="85" y="335" width="1" height="1"/><rect x="88" y="335" width="1" height="1"/><rect x="91" y="335" width="1" height="1"/><rect x="94" y="335" width="1" height="1"/><rect x="97" y="335" width="1" height="1"/><rect x="100" y="335" width="1" height="1"/><rect x="103" y="335" width="1" height="1"/><rect x="106" y="335" width="1" height="1"/><rect x="109" y="335" width="1" height="1"/><rect x="112" y="335" width="1" height="1"/><rect x="115" y="335" width="1" height="1"/><rect x="118" y="335" width="1" height="1"/><rect x="121" y="335" width="1" height="1"/><rect x="124" y="335" width="1" height="1"/><rect x="127" y="335" width="1" height="1"/><rect x="130" y="335" width="1" height="1"/><rect x="133" y="335" width="1" height="1"/><rect x="136" y="335" width="1" height="1"/><rect x="139" y="335" width="1" height="1"/><rect x="142" y="335" width="1" height="1"/><rect x="145" y="335" width="1" height="1"/><rect x="148" y="335" width="1" height="1"/><rect x="151" y="335" width="1" height="1"/><rect x="154" y="335" width="1" height="1"/><rect x="157" y="335" width="1" height="1"/><rect x="160" y="335" width="1" height="1"/><rect x="163" y="335" width="1" height="1"/><rect x="166" y="335" width="1" height="1"/><rect x="169" y="335" width="1" height="1"/><rect x="172" y="335" width="1" height="1"/><rect x="175" y="335" width="1" height="1"/><rect x="178" y="335" width="1" height="1"/><rect x="181" y="335" width="1" height="1"/><rect x="184" y="335" width="1" height="1"/><rect x="187" y="335" width="1" height="1"/><rect x="190" y="335" width="1" height="1"/><rect x="193" y="335" width="1" height="1"/><rect x="196" y="335" width="1" height="1"/><rect x="199" y="335" width="1" height="1"/><rect x="202" y="335" width="1" height="1"/><rect x="205" y="335" width="1" height="1"/><rect x="208" y="335" width="1" height="1"/><rect x="211" y="335" width="1" height="1"/><rect x="214" y="335" width="1" height="1"/><rect x="217" y="335" width="1" height="1"/><rect x="220" y="335" width="1" height="1"/><rect x="223" y="335" width="1" height="1"/><rect x="226" y="335" width="1" height="1"/><rect x="229" y="335" width="1" height="1"/><rect x="232" y="335" width="1" height="1"/><rect x="235" y="335" width="1" height="1"/><rect x="238" y="335" width="1" height="1"/><rect x="241" y="335" width="1" height="1"/><rect x="244" y="335" width="1" height="1"/><rect x="247" y="335" width="1" height="1"/><rect x="250" y="335" width="1" height="1"/><rect x="253" y="335" width="1" height="1"/><rect x="256" y="335" width="1" height="1"/><rect x="259" y="335" width="1" height="1"/><rect x="262" y="335" width="1" height="1"/><rect x="265" y="335" width="1" height="1"/><rect x="268" y="335" width="1" height="1"/><rect x="271" y="335" width="1" height="1"/><rect x="274" y="335" width="1" height="1"/><rect x="277" y="335" width="1" height="1"/><rect x="280" y="335" width="1" height="1"/><rect x="283" y="335" width="1" height="1"/><rect x="286" y="335" width="1" height="1"/><rect x="289" y="335" width="1" height="1"/><rect x="292" y="335" width="1" height="1"/><rect x="295" y="335" width="1" height="1"/><rect x="298" y="335" width="1" height="1"/><rect x="301" y="335" width="1" height="1"/><rect x="304" y="335" width="1" height="1"/><rect x="307" y="335" width="1" height="1"/><rect x="310" y="335" width="1" height="1"/><rect x="313" y="335" width="1" height="1"/><rect x="316" y="335" width="1" height="1"/><rect x="319" y="335" width="1" height="1"/><rect x="322" y="335" width="1" height="1"/><rect x="325" y="335" width="1" height="1"/><rect x="328" y="335" width="1" height="1"/><rect x="331" y="335" width="1" height="1"/><rect x="334" y="335" width="1" height="1"/><rect x="337" y="335" width="1" height="1"/><rect x="340" y="335" width="1" height="1"/><rect x="343" y="335" width="1" height="1"/><rect x="346" y="335" width="1" height="1"/><rect x="349" y="335" width="1" height="1"/><rect x="352" y="335" width="1" height="1"/><rect x="355" y="335" width="1" height="1"/><rect x="358" y="335" width="1" height="1"/><rect x="361" y="335" width="1" height="1"/><rect x="364" y="335" width="1" height="1"/><rect x="367" y="335" width="1" height="1"/><rect x="370" y="335" width="1" height="1"/><rect x="373" y="335" width="1" height="1"/><rect x="376" y="335" width="1" height="1"/><rect x="379" y="335" width="1" height="1"/><rect x="382" y="335" width="1" height="1"/><rect x="385" y="335" width="1" height="1"/><rect x="388" y="335" width="1" height="1"/><rect x="391" y="335" width="1" height="1"/><rect x="394" y="335" width="1" height="1"/><rect x="397" y="335" width="1" height="1"/><rect x="400" y="335" width="1" height="1"/><rect x="403" y="335" width="1" height="1"/><rect x="406" y="335" width="1" height="1"/><rect x="409" y="335" width="1" height="1"/><rect x="412" y="335" width="1" height="1"/><rect x="415" y="335" width="1" height="1"/><rect x="418" y="335" width="1" height="1"/><rect x="421" y="335" width="1" height="1"/><rect x="424" y="335" width="1" height="1"/><rect x="427" y="335" width="1" height="1"/><rect x="430" y="335" width="1" height="1"/><rect x="433" y="335" width="1" height="1"/><rect x="436" y="335" width="1" height="1"/><rect x="439" y="335" width="1" height="1"/><rect x="442" y="335" width="1" height="1"/><rect x="445" y="335" width="1" height="1"/><rect x="448" y="335" width="1" height="1"/><rect x="451" y="335" width="1" height="1"/><rect x="454" y="335" width="1" height="1"/><rect x="457" y="335" width="1" height="1"/><rect x="460" y="335" width="1" height="1"/><rect x="463" y="335" width="1" height="1"/><rect x="466" y="335" width="1" height="1"/><rect x="469" y="335" width="1" height="1"/><rect x="472" y="335" width="1" height="1"/><rect x="475" y="335" width="1" height="1"/><rect x="478" y="335" width="1" height="1"/><rect x="481" y="335" width="1" height="1"/><rect x="484" y="335" width="1" height="1"/><rect x="487" y="335" width="1" height="1"/><rect x="490" y="335" width="1" height="1"/><rect x="493" y="335" width="1" height="1"/><rect x="496" y="335" width="1" height="1"/><rect x="499" y="335" width="1" height="1"/><rect x="502" y="335" width="1" height="1"/><rect x="505" y="335" width="1" height="1"/><rect x="508" y="335" width="1" height="1"/><rect x="511" y="335" width="1" height="1"/><rect x="514" y="335" width="1" height="1"/><rect x="517" y="335" width="1" height="1"/><rect x="520" y="335" width="1" height="1"/><rect x="523" y="335" width="1" height="1"/><rect x="526" y="335" width="1" height="1"/><rect x="529" y="335" width="1" height="1"/><rect x="532" y="335" width="1" height="1"/><rect x="535" y="335" width="1" height="1"/><rect x="538" y="335" width="1" height="1"/><rect x="541" y="335" width="1" height="1"/><rect x="544" y="335" width="1" height="1"/><rect x="547" y="335" width="1" height="1"/><rect x="550" y="335" width="1" height="1"/><rect x="553" y="335" width="1" height="1"/><rect x="556" y="335" width="1" height="1"/><rect x="559" y="335" width="1" height="1"/><rect x="562" y="335" width="1" height="1"/><rect x="565" y="335" width="1" height="1"/><rect x="568" y="335" width="1" height="1"/><rect x="571" y="335" width="1" height="1"/><rect x="574" y="335" width="1" height="1"/><rect x="577" y="335" width="1" height="1"/><rect x="580" y="335" width="1" height="1"/><rect x="583" y="335" width="1" height="1"/><rect x="586" y="335" width="1" height="1"/><rect x="589" y="335" width="1" height="1"/><rect x="592" y="335" width="1" height="1"/><rect x="595" y="335" width="1" height="1"/><rect x="598" y="335" width="1" height="1"/><rect x="601" y="335" width="1" height="1"/><rect x="604" y="335" width="1" height="1"/><rect x="607" y="335" width="1" height="1"/><rect x="610" y="335" width="1" height="1"/><rect x="613" y="335" width="1" height="1"/><rect x="616" y="335" width="1" height="1"/><rect x="619" y="335" width="1" height="1"/><rect x="622" y="335" width="1" height="1"/><rect x="625" y="335" width="1" height="1"/><rect x="628" y="335" width="1" height="1"/><rect x="631" y="335" width="1" height="1"/><rect x="634" y="335" width="1" height="1"/><rect x="637" y="335" width="1" height="1"/><rect x="640" y="335" width="1" height="1"/><rect x="643" y="335" width="1" height="1"/><rect x="646" y="335" width="1" height="1"/><rect x="649" y="335" width="1" height="1"/><rect x="652" y="335" width="1" height="1"/><rect x="655" y="335" width="1" height="1"/><rect x="658" y="335" width="1" height="1"/><rect x="661" y="335" width="1" height="1"/><rect x="664" y="335" width="1" height="1"/><rect x="667" y="335" width="1" height="1"/><rect x="670" y="335" width="1" height="1"/><rect x="673" y="335" width="1" height="1"/><rect x="676" y="335" width="1" height="1"/><rect x="679" y="335" width="1" height="1"/><rect x="682" y="335" width="1" height="1"/><rect x="685" y="335" width="1" height="1"/><rect x="688" y="335" width="1" height="1"/><rect x="691" y="335" width="1" height="1"/><rect x="694" y="335" width="1" height="1"/><rect x="697" y="335" width="1" height="1"/><rect x="700" y="335" width="1" height="1"/><rect x="703" y="335" width="1" height="1"/><rect x="706" y="335" width="1" height="1"/><rect x="709" y="335" width="1" height="1"/><rect x="712" y="335" width="1" height="1"/><rect x="715" y="335" width="1" height="1"/><rect x="718" y="335" width="1" height="1"/><rect x="721" y="335" width="1" height="1"/><rect x="724" y="335" width="1" height="1"/><rect x="727" y="335" width="1" height="1"/><rect x="730" y="335" width="1" height="1"/><rect x="733" y="335" width="1" height="1"/><rect x="736" y="335" width="1" height="1"/><rect x="739" y="335" width="1" height="1"/><rect x="742" y="335" width="1" height="1"/><rect x="745" y="335" width="1" height="1"/><rect x="748" y="335" width="1" height="1"/><rect x="751" y="335" width="1" height="1"/><rect x="754" y="335" width="1" height="1"/><rect x="757" y="335" width="1" height="1"/><rect x="760" y="335" width="1" height="1"/><rect x="763" y="335" width="1" height="1"/><rect x="766" y="335" width="1" height="1"/><rect x="769" y="335" width="1" height="1"/><rect x="772" y="335" width="1" height="1"/><rect x="775" y="335" width="1" height="1"/><rect x="778" y="335" width="1" height="1"/><rect x="781" y="335" width="1" height="1"/><rect x="784" y="335" width="1" height="1"/><rect x="787" y="335" width="1" height="1"/><rect x="790" y="335" width="1" height="1"/><rect x="793" y="335" width="1" height="1"/><rect x="796" y="335" width="1" height="1"/><rect x="799" y="335" width="1" height="1"/><rect x="802" y="335" width="1" height="1"/><rect x="805" y="335" width="1" height="1"/><rect x="808" y="335" width="1" height="1"/><rect x="811" y="335" width="1" height="1"/><rect x="814" y="335" width="1" height="1"/><rect x="817" y="335" width="1" height="1"/><rect x="820" y="335" width="1" height="1"/><rect x="823" y="335" width="1" height="1"/><rect x="826" y="335" width="1" height="1"/><rect x="829" y="335" width="1" height="1"/><rect x="832" y="335" width="1" height="1"/><rect x="835" y="335" width="1" height="1"/><rect x="838" y="335" width="1" height="1"/><rect x="841" y="335" width="1" height="1"/><rect x="844" y="335" width="1" height="1"/><rect x="847" y="335" width="1" height="1"/><rect x="850" y="335" width="1" height="1"/><rect x="853" y="335" width="1" height="1"/><rect x="856" y="335" width="1" height="1"/><rect x="859" y="335" width="1" height="1"/><rect x="862" y="335" width="1" height="1"/><rect x="865" y="335" width="1" height="1"/><rect x="868" y="335" width="1" height="1"/><rect x="871" y="335" width="1" height="1"/><rect x="874" y="335" width="1" height="1"/><rect x="877" y="335" width="1" height="1"/><rect x="880" y="335" width="1" height="1"/><rect x="883" y="335" width="1" height="1"/><rect x="886" y="335" width="1" height="1"/><rect x="889" y="335" width="1" height="1"/><rect x="892" y="335" width="1" height="1"/><rect x="895" y="335" width="1" height="1"/><rect x="898" y="335" width="1" height="1"/><rect x="901" y="335" width="1" height="1"/><rect x="904" y="335" width="1" height="1"/><rect x="907" y="335" width="1" height="1"/><rect x="910" y="335" width="1" height="1"/><rect x="913" y="335" width="1" height="1"/><rect x="916" y="335" width="1" height="1"/><rect x="919" y="335" width="1" height="1"/><rect x="922" y="335" width="1" height="1"/><rect x="925" y="335" width="1" height="1"/><rect x="928" y="335" width="1" height="1"/><rect x="931" y="335" width="1" height="1"/><rect x="934" y="335" width="1" height="1"/><rect x="937" y="335" width="1" height="1"/><rect x="940" y="335" width="1" height="1"/><rect x="943" y="335" width="1" height="1"/><rect x="946" y="335" width="1" height="1"/><rect x="949" y="335" width="1" height="1"/><rect x="952" y="335" width="1" height="1"/><rect x="955" y="335" width="1" height="1"/><rect x="958" y="335" width="1" height="1"/><rect x="961" y="335" width="1" height="1"/><rect x="964" y="335" width="1" height="1"/><rect x="967" y="335" width="1" height="1"/><rect x="970" y="335" width="1" height="1"/><rect x="973" y="335" width="1" height="1"/><rect x="976" y="335" width="1" height="1"/><rect x="979" y="335" width="1" height="1"/><rect x="982" y="335" width="1" height="1"/><rect x="985" y="335" width="1" height="1"/><rect x="988" y="335" width="1" height="1"/><rect x="991" y="335" width="1" height="1"/><rect x="994" y="335" width="1" height="1"/><rect x="997" y="335" width="1" height="1"/><rect x="1000" y="335" width="1" height="1"/><rect x="1003" y="335" width="1" height="1"/><rect x="1006" y="335" width="1" height="1"/><rect x="1009" y="335" width="1" height="1"/><rect x="1012" y="335" width="1" height="1"/><rect x="1015" y="335" width="1" height="1"/><rect x="1018" y="335" width="1" height="1"/><rect x="1021" y="335" width="1" height="1"/><rect x="1024" y="335" width="1" height="1"/><rect x="1027" y="335" width="1" height="1"/><rect x="1030" y="335" width="1" height="1"/><rect x="1033" y="335" width="1" height="1"/><rect x="1036" y="335" width="1" height="1"/><rect x="1039" y="335" width="1" height="1"/><rect x="1042" y="335" width="1" height="1"/><rect x="1045" y="335" width="1" height="1"/><rect x="1048" y="335" width="1" height="1"/><rect x="1051" y="335" width="1" height="1"/><rect x="1054" y="335" width="1" height="1"/><rect x="1057" y="335" width="1" height="1"/><rect x="1060" y="335" width="1" height="1"/><rect x="1063" y="335" width="1" height="1"/><rect x="1066" y="335" width="1" height="1"/><rect x="1069" y="335" width="1" height="1"/><rect x="1072" y="335" width="1" height="1"/><rect x="1075" y="335" width="1" height="1"/><rect x="1078" y="335" width="1" height="1"/><rect x="1081" y="335" width="1" height="1"/><rect x="1084" y="335" width="1" height="1"/><rect x="1087" y="335" width="1" height="1"/><rect x="1090" y="335" width="1" height="1"/><rect x="1093" y="335" width="1" height="1"/><rect x="1096" y="335" width="1" height="1"/><rect x="1099" y="335" width="1" height="1"/><rect x="1102" y="335" width="1" height="1"/><rect x="1105" y="335" width="1" height="1"/><rect x="1108" y="335" width="1" height="1"/><rect x="1111" y="335" width="1" height="1"/><rect x="1114" y="335" width="1" height="1"/><rect x="1117" y="335" width="1" height="1"/><rect x="1120" y="335" width="1" height="1"/><rect x="1123" y="335" width="1" height="1"/><rect x="1126" y="335" width="1" height="1"/><rect x="1129" y="335" width="1" height="1"/><rect x="1132" y="335" width="1" height="1"/><rect x="1135" y="335" width="1" height="1"/><rect x="1138" y="335" width="1" height="1"/><rect x="1141" y="335" width="1" height="1"/><rect x="1144" y="335" width="1" height="1"/><rect x="1147" y="335" width="1" height="1"/><rect x="1150" y="335" width="1" height="1"/><rect x="1153" y="335" width="1" height="1"/><rect x="1156" y="335" width="1" height="1"/><rect x="1159" y="335" width="1" height="1"/><rect x="1162" y="335" width="1" height="1"/><rect x="1165" y="335" width="1" height="1"/><rect x="1168" y="335" width="1" height="1"/><rect x="1171" y="335" width="1" height="1"/><rect x="1174" y="335" width="1" height="1"/><rect x="1177" y="335" width="1" height="1"/><rect x="1180" y="335" width="1" height="1"/><rect x="1183" y="335" width="1" height="1"/><rect x="1186" y="335" width="1" height="1"/><rect x="1189" y="335" width="1" height="1"/><rect x="1192" y="335" width="1" height="1"/><rect x="1195" y="335" width="1" height="1"/><rect x="1198" y="335" width="1" height="1"/><rect x="1201" y="335" width="1" height="1"/><rect x="1204" y="335" width="1" height="1"/><rect x="1207" y="335" width="1" height="1"/><rect x="1210" y="335" width="1" height="1"/><rect x="1213" y="335" width="1" height="1"/><rect x="1216" y="335" width="1" height="1"/><rect x="1219" y="335" width="1" height="1"/><rect x="1222" y="335" width="1" height="1"/><rect x="1225" y="335" width="1" height="1"/><rect x="1228" y="335" width="1" height="1"/><rect x="1231" y="335" width="1" height="1"/><rect x="1234" y="335" width="1" height="1"/><rect x="1237" y="335" width="1" height="1"/><rect x="1240" y="335" width="1" height="1"/><rect x="1243" y="335" width="1" height="1"/><rect x="1246" y="335" width="1" height="1"/><rect x="1249" y="335" width="1" height="1"/><rect x="1252" y="335" width="1" height="1"/><rect x="1255" y="335" width="1" height="1"/><rect x="1258" y="335" width="1" height="1"/><rect x="1261" y="335" width="1" height="1"/><rect x="1264" y="335" width="1" height="1"/><rect x="1267" y="335" width="1" height="1"/><rect x="1270" y="335" width="1" height="1"/><rect x="1273" y="335" width="1" height="1"/><rect x="1276" y="335" width="1" height="1"/><rect x="1279" y="335" width="1" height="1"/></g>
<path d="M1282,325 H1356 Q1358.2,325 1358.2,327.2 V361.8 Q1358.2,364 1356,364 H1282 Z" fill="#f23645"/>
<text x="1292.9" y="339.8" textLength="45.4" lengthAdjust="spacingAndGlyphs" font-size="15.2" font-weight="normal" fill="#ffffff" stroke="#ffffff" stroke-width="0.42" >0,3626</text>
<text x="1293.1" y="358.0" textLength="59.0" lengthAdjust="spacingAndGlyphs" font-size="15.2" font-weight="normal" fill="#fbd0d4" stroke="#fbd0d4" stroke-width="0.25" >01:28:04</text>
<rect x="1286" y="38.7" width="72.8" height="32.6" rx="4.5" ry="4.5" fill="#0f0f0f" stroke="#37393e" stroke-width="1.6"/>
<text x="1297.6" y="59.8" textLength="34.6" lengthAdjust="spacingAndGlyphs" font-size="15.2" font-weight="normal" fill="#d1d1d1" stroke="#d1d1d1" stroke-width="0.3" >USDT</text>
<defs><clipPath id="ax"><rect x="1282" y="35" width="80" height="723"/></clipPath></defs>
<g clip-path="url(#ax)"><text x="1299.6" y="760.4" textLength="45.9" lengthAdjust="spacingAndGlyphs" font-size="15.2" font-weight="normal" fill="#b2b5be" stroke="#b2b5be" stroke-width="0.3" >0,0500</text><rect x="1292.3" y="755.9" width="7" height="1.4" fill="#b2b5be"/></g>
<g clip-path="url(#fr)"><text x="3.5" y="780.7" textLength="25.0" lengthAdjust="spacingAndGlyphs" font-size="15.2" font-weight="bold" fill="#d1d4dc" stroke="#d1d4dc" stroke-width="0.12" >Nov</text></g>
<text x="1089.6" y="780.8" textLength="25.6" lengthAdjust="spacingAndGlyphs" font-size="15.2" font-weight="bold" fill="#d1d4dc" stroke="#d1d4dc" stroke-width="0.12" >Dez</text>
<text x="13.3" y="24.8" textLength="101.7" lengthAdjust="spacingAndGlyphs" font-size="15.0" font-weight="normal" fill="#dadada" stroke="#dadada" stroke-width="0.3" >andermmendes</text><text x="119.6" y="24.8" textLength="41.6" lengthAdjust="spacingAndGlyphs" font-size="15.0" font-weight="normal" fill="#dadada" stroke="#dadada" stroke-width="0.3" >criado</text><text x="166.2" y="24.8" textLength="27.7" lengthAdjust="spacingAndGlyphs" font-size="15.0" font-weight="normal" fill="#dadada" stroke="#dadada" stroke-width="0.3" >com</text><text x="199.9" y="24.8" textLength="115.3" lengthAdjust="spacingAndGlyphs" font-size="15.0" font-weight="normal" fill="#dadada" stroke="#dadada" stroke-width="0.3" >TradingView.com,</text><text x="322.7" y="24.8" textLength="22.7" lengthAdjust="spacingAndGlyphs" font-size="15.0" font-weight="normal" fill="#dadada" stroke="#dadada" stroke-width="0.3" >Dez</text><text x="351.1" y="24.8" textLength="18.9" lengthAdjust="spacingAndGlyphs" font-size="15.0" font-weight="normal" fill="#dadada" stroke="#dadada" stroke-width="0.3" >05,</text><text x="376.2" y="24.8" textLength="30.6" lengthAdjust="spacingAndGlyphs" font-size="15.0" font-weight="normal" fill="#dadada" stroke="#dadada" stroke-width="0.3" >2025</text><text x="412.5" y="24.8" textLength="35.9" lengthAdjust="spacingAndGlyphs" font-size="15.0" font-weight="normal" fill="#dadada" stroke="#dadada" stroke-width="0.3" >07:31</text><text x="455.0" y="24.8" textLength="39.3" lengthAdjust="spacingAndGlyphs" font-size="15.0" font-weight="normal" fill="#dadada" stroke="#dadada" stroke-width="0.3" >UTC-3</text>
<text x="23.4" y="59.0" textLength="63.7" lengthAdjust="spacingAndGlyphs" font-size="15.2" font-weight="normal" fill="#b2b5be" stroke="#b2b5be" stroke-width="0.3" >FARTCOIN</text><text x="94.6" y="59.0" font-size="15.2" font-weight="normal" fill="#b2b5be" stroke="#b2b5be" stroke-width="0.3" >/</text><text x="105.4" y="59.0" textLength="41.5" lengthAdjust="spacingAndGlyphs" font-size="15.2" font-weight="normal" fill="#b2b5be" stroke="#b2b5be" stroke-width="0.3" >Tether</text><text x="152.6" y="59.0" textLength="25.5" lengthAdjust="spacingAndGlyphs" font-size="15.2" font-weight="normal" fill="#b2b5be" stroke="#b2b5be" stroke-width="0.3" >USD</text><text x="193.3" y="59.0" textLength="15.3" lengthAdjust="spacingAndGlyphs" font-size="15.2" font-weight="normal" fill="#b2b5be" stroke="#b2b5be" stroke-width="0.3" >4h</text><text x="224.5" y="59.0" textLength="45.1" lengthAdjust="spacingAndGlyphs" font-size="15.2" font-weight="normal" fill="#b2b5be" stroke="#b2b5be" stroke-width="0.3" >Kraken</text>
<text x="279.2" y="59.0" textLength="22.7" lengthAdjust="spacingAndGlyphs" font-size="15.2" font-weight="normal" fill="#b2b5be" stroke="#b2b5be" stroke-width="0.3" >Abr</text>
<text x="302.7" y="59.0" textLength="43.6" lengthAdjust="spacingAndGlyphs" font-size="15.2" font-weight="normal" fill="#f23645" stroke="#f23645" stroke-width="0.3" >0,3847</text>
<text x="355.9" y="59.0" textLength="30.0" lengthAdjust="spacingAndGlyphs" font-size="15.2" font-weight="normal" fill="#b2b5be" stroke="#b2b5be" stroke-width="0.3" >Máx.</text>
<text x="387.7" y="59.0" textLength="44.1" lengthAdjust="spacingAndGlyphs" font-size="15.2" font-weight="normal" fill="#f23645" stroke="#f23645" stroke-width="0.3" >0,3847</text>
<text x="441.4" y="59.0" textLength="27.0" lengthAdjust="spacingAndGlyphs" font-size="15.2" font-weight="normal" fill="#b2b5be" stroke="#b2b5be" stroke-width="0.3" >Mín.</text>
<text x="470.2" y="59.0" textLength="44.3" lengthAdjust="spacingAndGlyphs" font-size="15.2" font-weight="normal" fill="#f23645" stroke="#f23645" stroke-width="0.3" >0,3536</text>
<text x="524.7" y="59.0" textLength="22.4" lengthAdjust="spacingAndGlyphs" font-size="15.2" font-weight="normal" fill="#b2b5be" stroke="#b2b5be" stroke-width="0.3" >Fch</text>
<text x="547.9" y="59.0" textLength="44.0" lengthAdjust="spacingAndGlyphs" font-size="15.2" font-weight="normal" fill="#f23645" stroke="#f23645" stroke-width="0.3" >0,3626</text>
<text x="602.5" y="59.0" textLength="49.8" lengthAdjust="spacingAndGlyphs" font-size="15.2" font-weight="normal" fill="#f23645" stroke="#f23645" stroke-width="0.3" >−0,0210</text><text x="660.4" y="59.0" textLength="55.0" lengthAdjust="spacingAndGlyphs" font-size="15.2" font-weight="normal" fill="#f23645" stroke="#f23645" stroke-width="0.3" >(−5,47%)</text>
<text x="23.4" y="80.0" textLength="33.2" lengthAdjust="spacingAndGlyphs" font-size="15.2" font-weight="normal" fill="#b2b5be" stroke="#b2b5be" stroke-width="0.3" >EMAs</text><text x="62.1" y="80.0" textLength="36.6" lengthAdjust="spacingAndGlyphs" font-size="15.2" font-weight="normal" fill="#b2b5be" stroke="#b2b5be" stroke-width="0.3" >Trend</text><text x="103.8" y="80.0" textLength="14.2" lengthAdjust="spacingAndGlyphs" font-size="15.2" font-weight="normal" fill="#b2b5be" stroke="#b2b5be" stroke-width="0.3" >By</text><text x="124.1" y="80.0" textLength="66.2" lengthAdjust="spacingAndGlyphs" font-size="15.2" font-weight="normal" fill="#b2b5be" stroke="#b2b5be" stroke-width="0.3" >BeloTrade</text><text x="195.4" y="80.0" textLength="31.5" lengthAdjust="spacingAndGlyphs" font-size="15.2" font-weight="normal" fill="#b2b5be" stroke="#b2b5be" stroke-width="0.3" >(200,</text><text x="234.0" y="80.0" textLength="20.4" lengthAdjust="spacingAndGlyphs" font-size="15.2" font-weight="normal" fill="#b2b5be" stroke="#b2b5be" stroke-width="0.3" >50)</text>
<text x="264.4" y="80.0" textLength="43.6" lengthAdjust="spacingAndGlyphs" font-size="15.2" font-weight="normal" fill="#f9c33a" stroke="#f9c33a" stroke-width="0.3" >0,3223</text>
<text x="318.4" y="80.0" textLength="44.2" lengthAdjust="spacingAndGlyphs" font-size="15.2" font-weight="normal" fill="#ffffff" stroke="#ffffff" stroke-width="0.3" >0,3349</text>
<text x="372.2" y="80.0" textLength="43.9" lengthAdjust="spacingAndGlyphs" font-size="15.2" font-weight="normal" fill="#008000" stroke="#008000" stroke-width="0.3" >0,0000</text>
<text x="426.6" y="80.0" textLength="43.9" lengthAdjust="spacingAndGlyphs" font-size="15.2" font-weight="normal" fill="#ff0000" stroke="#ff0000" stroke-width="0.3" >0,0000</text>
<text x="23.4" y="100.8" textLength="19.3" lengthAdjust="spacingAndGlyphs" font-size="15.2" font-weight="normal" fill="#b2b5be" stroke="#b2b5be" stroke-width="0.3" >Vol</text><text x="58.4" y="100.8" textLength="63.7" lengthAdjust="spacingAndGlyphs" font-size="15.2" font-weight="normal" fill="#b2b5be" stroke="#b2b5be" stroke-width="0.3" >FARTCOIN</text>
<text x="132.3" y="100.8" textLength="35.6" lengthAdjust="spacingAndGlyphs" font-size="15.2" font-weight="normal" fill="#ef5350" stroke="#ef5350" stroke-width="0.3" >53,09</text><text x="172.0" y="100.8" textLength="8.1" lengthAdjust="spacingAndGlyphs" font-size="15.2" font-weight="normal" fill="#ef5350" stroke="#ef5350" stroke-width="0.3" >K</text>
<g fill="#b2b5be"><rect x="184.1" y="53.3" width="2.2" height="2.3"/><rect x="215.6" y="53.3" width="2.2" height="2.3"/><rect x="49.3" y="95.1" width="2.2" height="2.3"/></g>
<path d="M1204,297.6 V301.5 H1207" stroke="#0d5a1d" stroke-opacity="0.85" stroke-width="1" fill="none"/>
<g transform="translate(15.3,815.8) scale(1.058)" fill="#dcdcdc"><path d="M14 22H7V11H0V4h14v18zM28 22h-8l7.5-18h8L28 22z"/><circle cx="20" cy="8" r="4"/></g>
<g transform="translate(55,810) scale(0.12355)" fill="none" stroke="#dcdcdc" stroke-width="32" stroke-linejoin="miter" stroke-miterlimit="6"><title>TradingView</title><path d="M58,100 H165" stroke-width="30"/><path d="M112.5,86 V237" stroke-width="35"/><path d="M196,128 V237 M196,192 C196,152 218,140 252,143"/><circle cx="305" cy="182" r="41"/><path d="M351,128 V237"/><circle cx="425" cy="182" r="41"/><path d="M471,80 V237"/><path d="M521,128 V237"/><path d="M576,128 V237 M576,192 C576,125 656,125 656,192 V237"/><circle cx="745" cy="182" r="41"/><path d="M791,128 V236 C791,288 728,288 703,258"/><path d="M966,128 V237"/><path d="M1098,209 A41,41 0 1 1 1106,182 H1030" stroke-width="29"/><clipPath id="wc"><rect x="1090" y="128" width="220" height="109"/></clipPath><path clip-path="url(#wc)" d="M1118.6,98 L1128,128 L1162,237 L1196,128 L1230,237 L1264,128 L1273.4,98" stroke-width="31" stroke-miterlimit="20"/><g fill="#dcdcdc" stroke="none"><circle cx="521" cy="97" r="20"/><circle cx="966" cy="97" r="20"/><path d="M815,85 H852 L877,172 L903,85 H940 L894,237 H861 Z"/></g></g></svg>
</body></html>
